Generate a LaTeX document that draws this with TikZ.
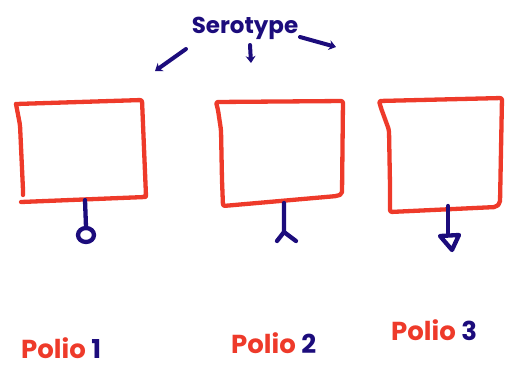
\documentclass[tikz,border=0pt]{standalone}
\usepackage{fontspec}
\setmainfont{Poppins}
\usetikzlibrary{arrows.meta}
\definecolor{pred}{HTML}{EE3A2A}
\definecolor{pnavy}{HTML}{1C0C7C}
\tikzset{
  boxline/.style={pred, line width=4.3pt, line cap=round, line join=round, rounded corners=2pt},
  stemline/.style={pnavy, line width=4.3pt, line cap=round, line join=round},
  arr/.style={pnavy, line width=4pt, line cap=round, -{Stealth[length=7pt,width=10pt]}},
  lbl/.style={font=\bfseries\fontsize{26}{28}\selectfont, inner sep=0pt},
}
\begin{document}
\begin{tikzpicture}[x=1pt,y=-1pt]
\useasboundingbox (0,0) rectangle (507,368);
% title
\node[lbl, pnavy, font=\bfseries\fontsize{23}{25}\selectfont] (title) at (245,28) {Serotype};
\coordinate (a1) at (155,71);
\coordinate (a2) at (251,63);
\coordinate (a3) at (336,47);
\draw[arr] (186,49) -- (a1);
\draw[arr] (250,45) -- (a2);
\draw[arr] (300,37) -- (a3);
% boxes
\draw[boxline] (16,104) -- (142,100) -- (146,196) -- (145,197) -- (21,202);
\draw[boxline] (16,104) -- (20,125) -- (23,190) -- (23,195);
\coordinate (b1) at (85,200);
\draw[boxline] (216,102) -- (343,101) -- (342,194) -- (337,196) -- (223,206) -- (222,180) -- (221,130) -- (218,110) -- cycle;
\coordinate (b2) at (284,203);
\draw[boxline] (379,101) -- (502,98) -- (500,203) -- (496,207) -- (390,212) -- (390,185) -- (389,130) -- (381,108) -- cycle;
\coordinate (b3) at (448,206);
% stems
\coordinate (c1) at (86,227);
\draw[stemline] (b1) -- (c1);
\draw[stemline] (86,235) ellipse (8 and 7);
\coordinate (c2) at (284,232);
\draw[stemline] (b2) -- (c2) -- (277,241);
\draw[stemline] (c2) -- (296,241);
\coordinate (c3) at (448,235);
\draw[stemline] (b3) -- (c3);
\draw[stemline] (440,236) -- (459,235) -- (452,250) -- cycle;
% labels
\node[lbl, anchor=base west] (l1) at (21,358) {\textcolor{pred}{Polio} \textcolor{pnavy}{1}};
\node[lbl, anchor=base west] (l2) at (231,353) {\textcolor{pred}{Polio} \textcolor{pnavy}{2}};
\node[lbl, anchor=base west] (l3) at (391,340) {\textcolor{pred}{Polio} \textcolor{pnavy}{3}};
\end{tikzpicture}
\end{document}
